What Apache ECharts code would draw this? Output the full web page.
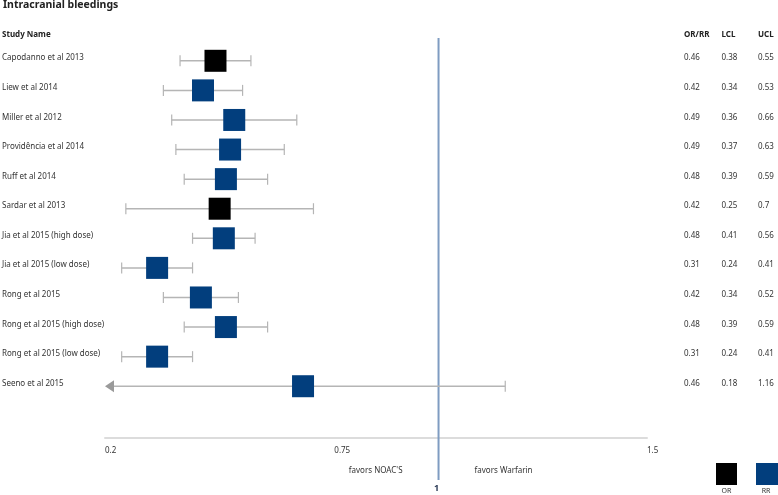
<!DOCTYPE html>
<html>
<head>
<meta charset="utf-8">
<script src="https://cdn.jsdelivr.net/npm/echarts@6/dist/echarts.min.js"></script>
<style>html,body{margin:0;padding:0;background:#fff}#c{width:778px;height:495px}</style>
</head>
<body>
<div id="c"></div>
<script>
const studies = ["Capodanno et al 2013","Liew et al 2014","Miller et al 2012","Providência et al 2014","Ruff et al 2014","Sardar et al 2013","Jia et al 2015 (high dose)","Jia et al 2015 (low dose)","Rong et al 2015","Rong et al 2015 (high dose)","Rong et al 2015 (low dose)","Seeno et al 2015"];
const measureType = ["OR","RR","RR","RR","RR","OR","RR","RR","RR","RR","RR","RR"];
const orRR = [0.46,0.42,0.49,0.49,0.48,0.42,0.48,0.31,0.42,0.48,0.31,0.46];
const lcl = [0.38,0.34,0.36,0.37,0.39,0.25,0.41,0.24,0.34,0.39,0.24,0.18];
const ucl = [0.55,0.53,0.66,0.63,0.59,0.7,0.56,0.41,0.52,0.59,0.41,1.16];
// box positions as drawn in the figure
const markerPos = [0.465,0.435,0.51,0.50,0.49,0.475,0.485,0.325,0.43,0.49,0.325,0.675];
const xTicks = [0.2,0.75,1.5];
const xMin = 0.2, xMax = 1.5, refValue = 1;

const FONT = '"Noto Sans", sans-serif';
const TXT = '#333';
const BLUE = '#023e7d';

const chart = echarts.init(document.getElementById('c'), null, {renderer:'canvas'});

const barData = studies.map((s,i)=>[lcl[i], ucl[i], i]);
const orPts = [], rrPts = [];
studies.forEach((s,i)=>{ (measureType[i]==='OR'?orPts:rrPts).push([markerPos[i], i]); });
const rowData = studies.map((s,i)=>[markerPos[i], i]);

const option = {
  animation:false,
  grid:{left:105, right:131, top:46, bottom:57, containLabel:false},
  xAxis:{type:'value', min:xMin, max:xMax, position:'bottom',
    axisLine:{show:true, onZero:false, lineStyle:{color:'#dcdcdc', width:2}},
    axisTick:{show:false}, splitLine:{show:false},
    axisLabel:{customValues:xTicks, align:'left', margin:9, fontSize:8, color:TXT, fontFamily:FONT,
      formatter:(v)=>String(v)}
  },
  yAxis:{type:'value', inverse:true, min:-0.5, max:12.75, show:false},
  series:[
    {type:'custom', name:'ref', z:1, clip:false, silent:true,
      data:[[refValue]],
      renderItem:(params, api)=>{
        const cs = params.coordSys;
        const x = api.coord([refValue, 0])[0];
        return {type:'group', children:[
          {type:'line', shape:{x1:x, y1:cs.y-8, x2:x, y2:cs.y+cs.height+42}, style:{stroke:'#7f9cc2', lineWidth:2}},
          {type:'text', x:x-2, y:cs.y+cs.height+50, style:{text:'1', font:'bold 9px '+FONT, fill:'#2a3a55', align:'center', verticalAlign:'middle'}},
          {type:'text', x:x-36, y:cs.y+cs.height+33, style:{text:"favors NOAC'S", font:'8px '+FONT, fill:TXT, align:'right', verticalAlign:'middle'}},
          {type:'text', x:x+36, y:cs.y+cs.height+33, style:{text:'favors Warfarin', font:'8px '+FONT, fill:TXT, align:'left', verticalAlign:'middle'}}
        ]};
      }
    },
    {type:'custom', name:'ci', z:2, clip:false, silent:true,
      data:barData,
      renderItem:(params, api)=>{
        const lo = api.value(0), hi = api.value(1), row = api.value(2);
        const arrow = lo < xMin;
        const p1 = api.coord([arrow ? xMin : lo, row]);
        const p2 = api.coord([hi, row]);
        const y = p1[1];
        const stroke = '#b5b5b5';
        const ch = [
          {type:'line', shape:{x1:p1[0]+(arrow?6:0), y1:y, x2:p2[0], y2:y}, style:{stroke:stroke, lineWidth:1.5}},
          {type:'line', shape:{x1:p2[0], y1:y-5.5, x2:p2[0], y2:y+5.5}, style:{stroke:stroke, lineWidth:1.2}}
        ];
        if (arrow) {
          ch.push({type:'polygon', shape:{points:[[p1[0],y],[p1[0]+9,y-6],[p1[0]+9,y+6]]}, style:{fill:'#9a9a9a'}});
        } else {
          ch.push({type:'line', shape:{x1:p1[0], y1:y-5.5, x2:p1[0], y2:y+5.5}, style:{stroke:stroke, lineWidth:1.2}});
        }
        return {type:'group', children:ch};
      }
    },
    {type:'scatter', name:'OR', z:3, symbol:'rect', symbolSize:22, data:orPts, itemStyle:{color:'#000', opacity:1}, silent:true},
    {type:'scatter', name:'RR', z:3, symbol:'rect', symbolSize:22, data:rrPts, itemStyle:{color:BLUE, opacity:1}, silent:true},
    {type:'custom', name:'labels', z:4, clip:false, silent:true,
      data:rowData,
      renderItem:(params, api)=>{
        const i = api.value(1);
        const y = api.coord([xMin, i])[1] - 2.7;
        const st = (t)=>({text:t, font:'8px '+FONT, fill:TXT, align:'left', verticalAlign:'middle'});
        return {type:'group', children:[
          {type:'text', x:2, y:y, style:st(studies[i])},
          {type:'text', x:684, y:y, style:st(String(orRR[i]))},
          {type:'text', x:721.5, y:y, style:st(String(lcl[i]))},
          {type:'text', x:758, y:y, style:st(String(ucl[i]))}
        ]};
      }
    }
  ],
  graphic:[
    {type:'text', left:3, top:0, style:{text:'Intracranial bleedings', font:'bold 10.5px '+FONT, fill:'#222'}},
    {type:'text', x:2, y:35, style:{text:'Study Name', font:'bold 8px '+FONT, fill:'#222', verticalAlign:'middle'}},
    {type:'text', x:684, y:35, style:{text:'OR/RR', font:'bold 8px '+FONT, fill:'#222', verticalAlign:'middle'}},
    {type:'text', x:721.5, y:35, style:{text:'LCL', font:'bold 8px '+FONT, fill:'#222', verticalAlign:'middle'}},
    {type:'text', x:758, y:35, style:{text:'UCL', font:'bold 8px '+FONT, fill:'#222', verticalAlign:'middle'}},
    {type:'rect', shape:{x:716, y:463, width:21, height:22}, style:{fill:'#000'}},
    {type:'rect', shape:{x:756, y:463, width:22, height:22}, style:{fill:BLUE}},
    {type:'text', x:726.5, y:490.5, style:{text:'OR', font:'7px '+FONT, fill:TXT, align:'center', verticalAlign:'middle'}},
    {type:'text', x:766, y:490.5, style:{text:'RR', font:'7px '+FONT, fill:TXT, align:'center', verticalAlign:'middle'}}
  ]
};
chart.setOption(option);
</script>
</body>
</html>
